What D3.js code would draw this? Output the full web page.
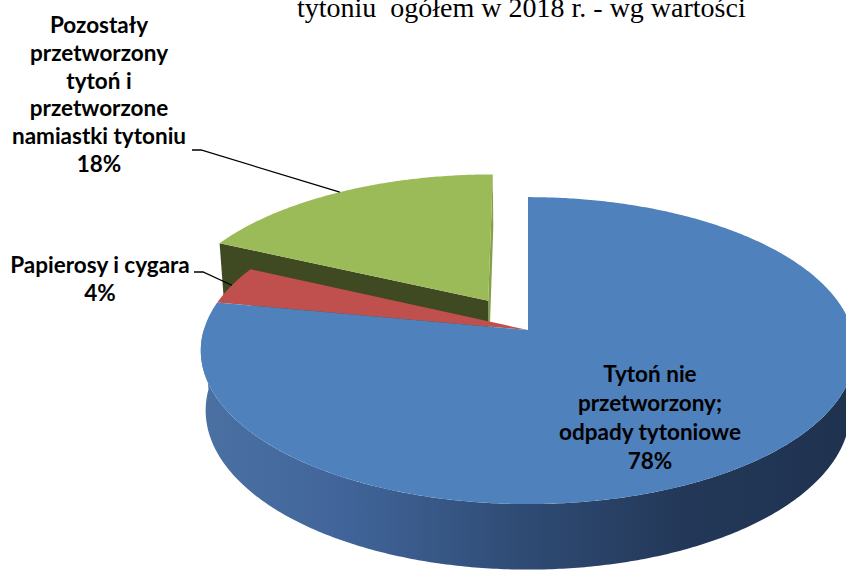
<!DOCTYPE html>
<html>
<head>
<meta charset="utf-8">
<script src="https://cdn.jsdelivr.net/npm/d3@7"></script>
<style>
  body { margin: 0; background: #fff; }
  svg { display: block; }
  .lbl { font-family: Lato, "Open Sans", sans-serif; font-weight: 700; font-size: 22.5px; fill: #000; }
  .title { font-family: "Liberation Serif", "Times New Roman", serif; font-size: 28px; fill: #000; white-space: pre; }
</style>
</head>
<body>
<svg id="chart" width="846" height="572"></svg>
<script>
// data
const categories = [
    "Tytoń nie przetworzony; odpady tytoniowe",
    "Papierosy i cygara",
    "Pozostały przetworzony tytoń i przetworzone namiastki tytoniu"
]
const values = [78, 4, 18]
const labelLines = [
    ["Tytoń nie", "przetworzony;", "odpady tytoniowe"],
    ["Papierosy i cygara"],
    ["Pozostały", "przetworzony", "tytoń i", "przetworzone", "namiastki tytoniu"]
]
const titleText = "tytoniu  ogółem w 2018 r. - wg wartości"

// look of the 3d pie
const CONFIG = {
    cx: 528, cy: 330,
    focal: 2140, dist: 6.6, tilt: 27.7 * Math.PI / 180,
    depth: 0.21,
    explode: [0, 0, 0.235],
    topColors: ["#4F81BD", "#C0504D", "#9BBB59"],
    faceColors: ["#2E4A72", "#8E3B39", "#3F4A22"],
    endColor: "#84A04A",
}

// label anchors: centre x, first baseline, line step, leader line start
const labelPos = [
    { x: 650, y: 382, lh: 29 },
    { x: 100, y: 273, lh: 28, lead: [194, 272, 203] },
    { x: 99, y: 33, lh: 27.8, lead: [192, 150, 201] }
]

const svg = d3.select("#chart")

// perspective projection; xw right, yw up, zw toward viewer
function project(xw, yw, zw) {
    const sa = Math.sin(CONFIG.tilt), ca = Math.cos(CONFIG.tilt)
    const dep = CONFIG.dist - yw * sa - zw * ca
    return [
        CONFIG.cx + CONFIG.focal * xw / dep,
        CONFIG.cy - CONFIG.focal * (yw * ca - zw * sa) / dep
    ]
}

// point on slice with radius r at angle a (clockwise from 12 o'clock)
function rimPoint(a, r, y, off) {
    return project(off[0] + r * Math.sin(a), y, off[1] - r * Math.cos(a))
}

const pie = d3.pie().sort(null).value(d => d)
const arcs = pie(values)
arcs.forEach((d, i) => {
    const mid = (d.startAngle + d.endAngle) / 2
    const e = CONFIG.explode[i]
    d.off = [e * Math.sin(mid), -e * Math.cos(mid)]
    d.mid = mid
})

const line = d3.line()

function sampleAngles(a0, a1) {
    const n = Math.max(2, Math.ceil((a1 - a0) / 0.01))
    return d3.range(n + 1).map(k => a0 + (a1 - a0) * k / n)
}

function topFace(d) {
    const pts = [project(d.off[0], 0, d.off[1])]
    sampleAngles(d.startAngle, d.endAngle).forEach(a => pts.push(rimPoint(a, 1, 0, d.off)))
    return line(pts) + "Z"
}

function radialFace(d, a) {
    const h = -CONFIG.depth
    return line([
        project(d.off[0], 0, d.off[1]),
        rimPoint(a, 1, 0, d.off),
        rimPoint(a, 1, h, d.off),
        project(d.off[0], h, d.off[1])
    ]) + "Z"
}

function wallFace(d, a0, a1) {
    const h = -CONFIG.depth
    const angs = sampleAngles(Math.max(a0, d.startAngle), Math.min(a1, d.endAngle))
    const pts = angs.map(a => rimPoint(a, 1, 0, d.off))
        .concat(angs.slice().reverse().map(a => rimPoint(a, 1, h, d.off)))
    return line(pts) + "Z"
}

const defs = svg.append("defs")
const wallGrad = defs.append("linearGradient")
    .attr("id", "wall-grad")
    .attr("gradientUnits", "userSpaceOnUse")
    .attr("x1", 200).attr("x2", 846).attr("y1", 0).attr("y2", 0)
const wallStops = [["0%", "#4B71A3"], ["22%", "#41659A"], ["50%", "#2F4B74"], ["75%", "#233858"], ["100%", "#1F3250"]]
wallStops.forEach(s => wallGrad.append("stop").attr("offset", s[0]).attr("stop-color", s[1]))

const blue = arcs[0], red = arcs[1], green = arcs[2]

// back (exploded) slice first
svg.append("path").attr("d", radialFace(green, green.endAngle)).attr("fill", CONFIG.endColor)
svg.append("path").attr("d", radialFace(green, green.startAngle)).attr("fill", CONFIG.faceColors[2])
svg.append("path").attr("d", topFace(green)).attr("fill", CONFIG.topColors[2])

// front wall of the big slice
svg.append("path").attr("d", wallFace(blue, Math.PI / 2, Math.PI * 1.5)).attr("fill", "url(#wall-grad)")

// top faces
svg.append("path").attr("d", topFace(red)).attr("fill", CONFIG.topColors[1])
svg.append("path").attr("d", topFace(blue)).attr("fill", CONFIG.topColors[0])

// title (cut off at the top edge as in the source)
svg.append("text")
    .attr("class", "title")
    .attr("x", 297).attr("y", 17)
    .text(titleText)

// labels
arcs.forEach((d, i) => {
    const p = labelPos[i]
    const lines = labelLines[i].concat([values[i] + "%"])
    const t = svg.append("text").attr("class", "lbl").attr("text-anchor", "middle")
    lines.forEach((s, k) => {
        t.append("tspan").attr("x", p.x).attr("y", p.y + k * p.lh).text(s)
    })
    if (p.lead) {
        const end = rimPoint(d.mid, 1, 0, d.off)
        svg.append("path")
            .attr("d", line([[p.lead[0], p.lead[1]], [p.lead[2], p.lead[1]], end]))
            .attr("fill", "none")
            .attr("stroke", "#000")
            .attr("stroke-width", 1.3)
    }
})
</script>
</body>
</html>
